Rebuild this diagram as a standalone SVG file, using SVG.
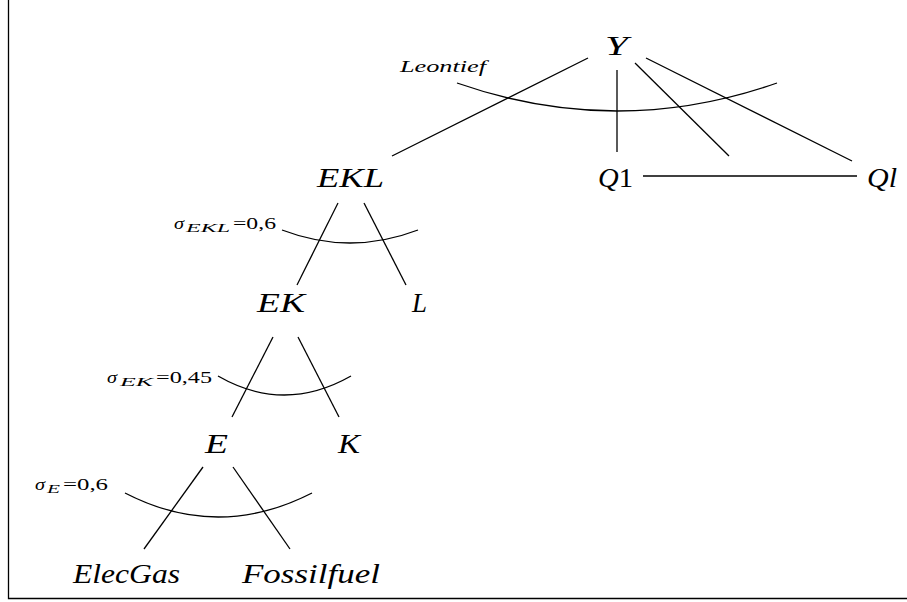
<svg xmlns="http://www.w3.org/2000/svg" width="907" height="602" viewBox="0 0 907 602">
<style>
  .n { font-family: "Liberation Serif", "DejaVu Serif", serif; font-style: italic; font-size: 27px; fill: #000; }
  .s { font-family: "Liberation Serif", "DejaVu Serif", serif; font-size: 16px; fill: #000; }
  .si { font-style: italic; }
  .sub { font-style: italic; font-size: 12px; }
  .l { stroke: #000; stroke-width: 1.3; fill: none; }
</style>
<rect x="0" y="0" width="907" height="602" fill="#fff"/>
<path d="M8.5 0 V598.5 H907" class="l" stroke-width="1.2"/>

<g id="connectors">
  <line class="l" x1="588" y1="58" x2="392" y2="156"/>
  <line class="l" x1="617" y1="70" x2="617" y2="152"/>
  <line class="l" x1="635" y1="63" x2="729" y2="156"/>
  <line class="l" x1="646" y1="58" x2="852" y2="161"/>
  <line class="l" x1="643" y1="176" x2="857" y2="176"/>
  <path class="l" d="M457 83 Q617 139 777 83"/>

  <line class="l" x1="338" y1="203" x2="297" y2="285"/>
  <line class="l" x1="364" y1="203" x2="406" y2="285"/>
  <path class="l" d="M282 230 Q350 256 418 230"/>

  <line class="l" x1="273" y1="337" x2="232" y2="417"/>
  <line class="l" x1="298" y1="337" x2="339" y2="417"/>
  <path class="l" d="M218 376 Q284 414 351 376"/>

  <line class="l" x1="203" y1="467" x2="144" y2="549"/>
  <line class="l" x1="233" y1="467" x2="290" y2="549"/>
  <path class="l" d="M125 493 Q218 541 312 493"/>
</g>

<g id="Y"><text class="n" x="605" y="55" textLength="23" lengthAdjust="spacingAndGlyphs">Y</text></g>
<g id="leontief"><text class="s si" x="400" y="72" font-size="15" textLength="86" lengthAdjust="spacingAndGlyphs">Leontief</text></g>
<g id="EKL"><text class="n" x="317" y="187" textLength="67" lengthAdjust="spacingAndGlyphs">EKL</text></g>
<g id="Q1"><text class="n" x="598" y="187" textLength="35" lengthAdjust="spacingAndGlyphs">Q<tspan font-style="normal">1</tspan></text></g>
<g id="Ql"><text class="n" x="867" y="187" textLength="30" lengthAdjust="spacingAndGlyphs">Ql</text></g>
<g id="sigmaEKL">
  <text class="s si" x="174" y="229" textLength="10" lengthAdjust="spacingAndGlyphs">σ</text>
  <text class="s sub" x="186" y="232" textLength="44" lengthAdjust="spacingAndGlyphs">EKL</text>
  <text class="s" x="233" y="229" textLength="43" lengthAdjust="spacingAndGlyphs">=0,6</text>
</g>
<g id="EK"><text class="n" x="257" y="312" textLength="48" lengthAdjust="spacingAndGlyphs">EK</text></g>
<g id="L"><text class="n" x="412" y="312" textLength="15" lengthAdjust="spacingAndGlyphs">L</text></g>
<g id="sigmaEK">
  <text class="s si" x="107" y="383" textLength="10" lengthAdjust="spacingAndGlyphs">σ</text>
  <text class="s sub" x="120" y="386" textLength="33" lengthAdjust="spacingAndGlyphs">EK</text>
  <text class="s" x="156" y="383" textLength="56" lengthAdjust="spacingAndGlyphs">=0,45</text>
</g>
<g id="E"><text class="n" x="205" y="453" textLength="23" lengthAdjust="spacingAndGlyphs">E</text></g>
<g id="K"><text class="n" x="338" y="453" textLength="22" lengthAdjust="spacingAndGlyphs">K</text></g>
<g id="sigmaE">
  <text class="s si" x="35" y="490" textLength="10" lengthAdjust="spacingAndGlyphs">σ</text>
  <text class="s sub" x="47" y="493" textLength="13" lengthAdjust="spacingAndGlyphs">E</text>
  <text class="s" x="63" y="490" textLength="45" lengthAdjust="spacingAndGlyphs">=0,6</text>
</g>
<g id="ElecGas"><text class="n" x="73" y="583" textLength="107" lengthAdjust="spacingAndGlyphs">ElecGas</text></g>
<g id="Fossilfuel"><text class="n" x="242" y="583" textLength="138" lengthAdjust="spacingAndGlyphs">Fossilfuel</text></g>
</svg>
